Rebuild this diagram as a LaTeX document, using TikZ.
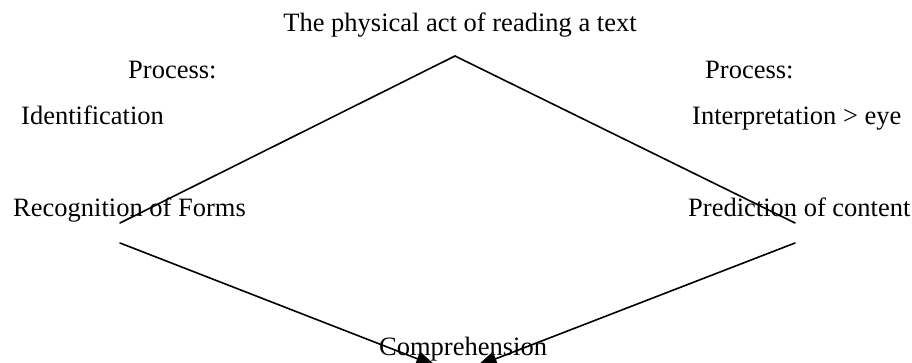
\documentclass[tikz,border=0pt]{standalone}
\usepackage{fontspec}
\setmainfont{Liberation Serif}
\usetikzlibrary{arrows.meta}
\begin{document}
\begin{tikzpicture}[x=1pt,y=-1pt,
  lbl/.style={anchor=base west,inner sep=0pt,font=\fontsize{26.5}{30}\selectfont},
  ttl/.style={anchor=base,inner sep=0pt,font=\fontsize{26.5}{30}\selectfont},
  edge/.style={line width=1.6pt,line cap=round},
  arr/.style={edge,-{Triangle[length=20pt,width=15pt]}}]
\fill[white] (0,0) rectangle (912,363);
\useasboundingbox (0,0) rectangle (912,363);
% texts
\node[ttl] (title) at (460,32) {The physical act of reading a text};
\node[lbl] (procL) at (128,79) {Process:};
\node[lbl] (ident) at (21,125) {Identification};
\node[lbl] (procR) at (705,79) {Process:};
\node[lbl] (interp) at (692,125) {Interpretation > eye};
\node[lbl] (recog) at (13,217) {Recognition of Forms};
\node[lbl] (pred) at (688,217) {Prediction of content};
\node[lbl] (comp) at (379,355) {Comprehension};
% points
\coordinate (apex) at (455,56);
\coordinate (ul) at (120,223);
\coordinate (ur) at (795,223);
\coordinate (ll) at (120,243);
\coordinate (lr) at (795,243);
\coordinate (tipL) at (436,366);
\coordinate (tipR) at (477,366);
% connectors
\draw[edge] (ul) -- (apex) -- (ur);
\draw[arr] (ll) -- (tipL);
\draw[arr] (lr) -- (tipR);
\end{tikzpicture}
\end{document}
